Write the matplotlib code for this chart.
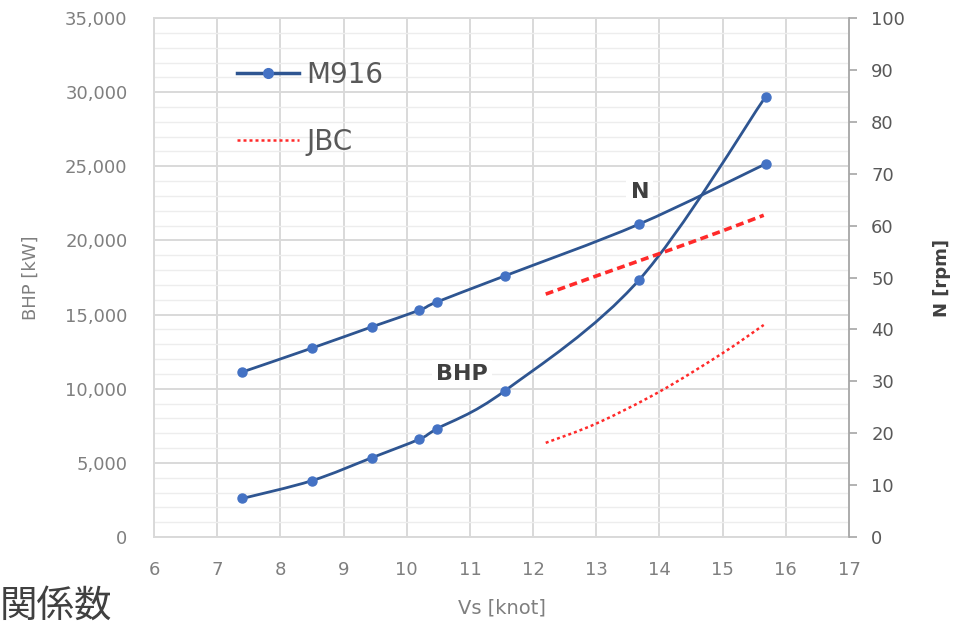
import matplotlib.pyplot as plt
from matplotlib.path import Path
from matplotlib.patches import PathPatch
from matplotlib.lines import Line2D
from matplotlib.ticker import MultipleLocator, FuncFormatter

plt.rcParams['font.family'] = ['DejaVu Sans', 'Noto Sans CJK JP']

# M916 data
vs_m916 = [7.4, 8.5, 9.45, 10.2, 10.48, 11.55, 13.68, 15.68]
bhp_m916 = [2600, 3800, 5350, 6600, 7300, 9850, 17350, 29700]
n_m916 = [31.8, 36.4, 40.5, 43.7, 45.3, 50.3, 60.3, 71.9]

# JBC data
vs_jbc = [12.2, 13.0, 14.0, 15.0, 15.65]
bhp_jbc = [6350, 7650, 9800, 12400, 14300]
n_jbc = [46.8, 50.3, 54.6, 59.0, 62.0]

BLUE_LINE = '#2E5591'
BLUE_MARK = '#4472C4'
RED = '#FF2A2A'
GRID = '#D9D9D9'
TXT = '#7F7F7F'


def smooth_path(xs, ys):
    # Catmull-Rom style bezier through the points (like Excel smoothed lines)
    verts = [(xs[0], ys[0])]
    codes = [Path.MOVETO]
    n = len(xs)
    for i in range(n - 1):
        x0, y0 = (xs[i - 1], ys[i - 1]) if i > 0 else (xs[i], ys[i])
        x1, y1 = xs[i], ys[i]
        x2, y2 = xs[i + 1], ys[i + 1]
        x3, y3 = (xs[i + 2], ys[i + 2]) if i + 2 < n else (x2, y2)
        c1 = (x1 + (x2 - x0) / 6, y1 + (y2 - y0) / 6)
        c2 = (x2 - (x3 - x1) / 6, y2 - (y3 - y1) / 6)
        verts += [c1, c2, (x2, y2)]
        codes += [Path.CURVE4] * 3
    return Path(verts, codes)


fig = plt.figure(figsize=(9.66, 6.28), dpi=100)
ax = fig.add_axes([0.1594, 0.1449, 0.7195, 0.8264])
ax2 = ax.twinx()

ax.set_xlim(6, 17)
ax.set_ylim(0, 35000)
ax2.set_ylim(0, 100)

ax.xaxis.set_major_locator(MultipleLocator(1))
ax.yaxis.set_major_locator(MultipleLocator(5000))
ax.yaxis.set_minor_locator(MultipleLocator(1000))
ax.yaxis.set_major_formatter(FuncFormatter(lambda v, p: f'{int(v):,}'))
ax2.yaxis.set_major_locator(MultipleLocator(10))

ax.grid(which='major', color=GRID, linewidth=1.4)
ax.grid(which='minor', axis='y', color='#EDEDED', linewidth=1.0)
ax.set_axisbelow(True)

for sp in ax.spines.values():
    sp.set_color(GRID)
    sp.set_linewidth(1.4)
for sp in ['top', 'left', 'bottom']:
    ax2.spines[sp].set_visible(False)
ax2.spines['right'].set_color('#A6A6A6')
ax2.spines['right'].set_linewidth(1.2)

ax.tick_params(axis='both', which='both', length=0, colors=TXT, labelsize=13)
ax.tick_params(axis='y', pad=19)
ax.tick_params(axis='x', pad=17)
ax2.tick_params(axis='y', length=6, width=1.2, color='#A6A6A6', labelcolor='#595959',
                labelsize=13, pad=10)

# M916 curves
ax.add_patch(PathPatch(smooth_path(vs_m916, bhp_m916), fill=False,
                       edgecolor=BLUE_LINE, linewidth=2.0, zorder=3))
ax.plot(vs_m916, bhp_m916, 'o', color=BLUE_MARK, markersize=6.5, zorder=4)
ax2.add_patch(PathPatch(smooth_path(vs_m916, n_m916), fill=False,
                        edgecolor=BLUE_LINE, linewidth=2.0, zorder=3))
ax2.plot(vs_m916, n_m916, 'o', color=BLUE_MARK, markersize=6.5, zorder=4)

# JBC curves
ax.add_patch(PathPatch(smooth_path(vs_jbc, bhp_jbc), fill=False, edgecolor=RED,
                       linewidth=1.8, linestyle=(0, (1.2, 1.2)), zorder=3))
ax2.add_patch(PathPatch(smooth_path(vs_jbc, n_jbc), fill=False, edgecolor=RED,
                        linewidth=2.6, linestyle=(0, (2.2, 1.3)), zorder=3))

# labels on curves
ax2.text(13.69, 66.5, 'N', fontsize=16, fontweight='bold', color='#404040',
         ha='center', va='center', bbox=dict(facecolor='white', edgecolor='none', pad=3))
ax.text(10.88, 11000, 'BHP', fontsize=16, fontweight='bold', color='#404040',
        ha='center', va='center', bbox=dict(facecolor='white', edgecolor='none', pad=3))

# legend
handles = [
    Line2D([], [], color=BLUE_LINE, linewidth=2.5, marker='o', markersize=7,
           markerfacecolor=BLUE_MARK, markeredgecolor=BLUE_MARK),
    Line2D([], [], color=RED, linewidth=1.8, linestyle=(0, (1.2, 1.2))),
]
leg = ax2.legend(handles, ['M916', 'JBC'], loc='upper left', bbox_to_anchor=(0.119, 0.917),
                 frameon=False, fontsize=20, labelspacing=1.4, handlelength=2.25,
                 handletextpad=0.25, borderaxespad=0, borderpad=0)
for t in leg.get_texts():
    t.set_color('#595959')

ax.set_xlabel('Vs [knot]', fontsize=14, color=TXT, labelpad=14)
ax.set_ylabel('BHP [kW]', fontsize=13, color=TXT, labelpad=18)
ax2.set_ylabel('N [rpm]', fontsize=13, color='#404040', fontweight='bold', labelpad=20)

fig.text(0.0, 0.034, '関係数', fontsize=27, color='#404040', ha='left', va='center',
         family=['Noto Sans CJK JP', 'DejaVu Sans'])

fig.savefig('out.png', dpi=100)
